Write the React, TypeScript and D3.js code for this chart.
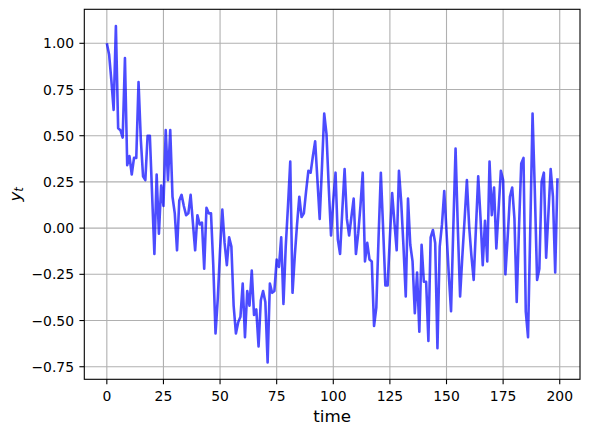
import React from "react";
import * as d3 from "d3";

// y_t series, t = 0 .. 199
const Y_VALUES: number[] = [
  1.0, 0.94, 0.8, 0.64, 1.093, 0.54, 0.53, 0.49, 0.92, 0.34,
  0.39, 0.29, 0.38, 0.38, 0.79, 0.48, 0.28, 0.26, 0.5, 0.5,
  0.18, -0.14, 0.29, -0.03, 0.23, 0.12, 0.53, 0.26, 0.53, 0.17,
  0.08, -0.12, 0.15, 0.18, 0.12, 0.07, 0.08, 0.18, 0.03, -0.12,
  0.07, 0.02, 0.03, -0.22, 0.11, 0.08, 0.08, -0.2, -0.57, -0.38,
  -0.12, 0.1, -0.08, -0.2, -0.05, -0.1, -0.42, -0.57, -0.51, -0.48,
  -0.3, -0.59, -0.34, -0.42, -0.23, -0.47, -0.44, -0.64, -0.39, -0.34,
  -0.4, -0.727, -0.3, -0.35, -0.34, -0.17, -0.21, -0.05, -0.41, -0.1,
  0.12, 0.36, -0.35, -0.15, 0.02, 0.17, 0.06, 0.08, 0.2, 0.31,
  0.3, 0.39, 0.47, 0.26, 0.05, 0.33, 0.62, 0.51, 0.22, -0.04,
  0.15, 0.3, -0.06, -0.14, 0.1, 0.32, 0.05, -0.04, 0.06, 0.16,
  -0.14, -0.03, 0.12, 0.3, -0.18, -0.08, -0.17, -0.18, -0.53, -0.43,
  -0.05, 0.3, 0.0, -0.31, -0.31, -0.05, 0.19, 0.03, -0.12, 0.31,
  0.14, -0.1, -0.37, 0.16, -0.09, -0.18, -0.46, -0.24, -0.56, -0.09,
  -0.29, -0.29, -0.61, -0.05, -0.01, -0.08, -0.65, -0.1, 0.02, 0.2,
  -0.02, -0.25, -0.45, 0.0, 0.43, 0.0, -0.37, -0.15, 0.05, 0.26,
  0.01, -0.15, -0.28, 0.0, 0.28, 0.06, -0.2, 0.04, -0.18, 0.36,
  0.07, 0.22, -0.11, 0.1, 0.31, 0.26, -0.25, -0.05, 0.17, 0.22,
  0.05, -0.4, 0.0, 0.35, 0.38, -0.45, -0.59, 0.0, 0.62, 0.2,
  -0.28, -0.22, 0.25, 0.3, -0.16, 0.08, 0.32, 0.17, -0.24, 0.27,
];

const X_TICKS: number[] = [0, 25, 50, 75, 100, 125, 150, 175, 200];
const Y_TICKS: number[] = [-0.75, -0.5, -0.25, 0.0, 0.25, 0.5, 0.75, 1.0];
const X_LABEL = "time";

const W = 589;
const H = 433;
const LEFT = 84.3;
const RIGHT = 580;
const TOP = 9.3;
const BOTTOM = 379.3;
const FONT = "'DejaVu Sans', sans-serif";
const GRID = "#b0b0b0";
const TICK_LEN = 4.9;

export default function App() {
  const n = Y_VALUES.length;
  const xPad = (n - 1) * 0.05;
  const x = d3.scaleLinear().domain([-xPad, n - 1 + xPad]).range([LEFT, RIGHT]);
  const [lo, hi] = d3.extent(Y_VALUES) as [number, number];
  const yPad = (hi - lo) * 0.05;
  const y = d3.scaleLinear().domain([lo - yPad, hi + yPad]).range([BOTTOM, TOP]);

  const line = d3
    .line<number>()
    .x((_, i) => x(i))
    .y((d) => y(d));

  const fmtY = d3.format(".2f");
  const fmtX = d3.format("d");

  return (
    <svg
      width={W}
      height={H}
      style={{ position: "fixed", left: 0, top: 0, background: "#fff" }}
      fontFamily={FONT}
    >
      <defs>
        <clipPath id="plot-clip">
          <rect x={LEFT} y={TOP} width={RIGHT - LEFT} height={BOTTOM - TOP} />
        </clipPath>
      </defs>
      <rect x={0} y={0} width={W} height={H} fill="#fff" />

      {/* grid */}
      {X_TICKS.map((t) => (
        <line
          key={"gx" + t}
          x1={x(t)}
          x2={x(t)}
          y1={TOP}
          y2={BOTTOM}
          stroke={GRID}
          strokeWidth={1.1}
        />
      ))}
      {Y_TICKS.map((t) => (
        <line
          key={"gy" + t}
          x1={LEFT}
          x2={RIGHT}
          y1={y(t)}
          y2={y(t)}
          stroke={GRID}
          strokeWidth={1.1}
        />
      ))}

      {/* data line */}
      <path
        d={line(Y_VALUES) || ""}
        fill="none"
        stroke="#0000ff"
        strokeOpacity={0.7}
        strokeWidth={2.6}
        strokeLinejoin="round"
        strokeLinecap="butt"
        clipPath="url(#plot-clip)"
      />

      {/* spines */}
      <rect
        x={LEFT}
        y={TOP}
        width={RIGHT - LEFT}
        height={BOTTOM - TOP}
        fill="none"
        stroke="#000"
        strokeWidth={1.1}
      />

      {/* x ticks */}
      {X_TICKS.map((t) => (
        <g key={"tx" + t}>
          <line x1={x(t)} x2={x(t)} y1={BOTTOM} y2={BOTTOM + TICK_LEN} stroke="#000" strokeWidth={1.1} />
          <text x={x(t)} y={400.5} textAnchor="middle" fontSize={13.9} fill="#000">
            {fmtX(t)}
          </text>
        </g>
      ))}

      {/* y ticks */}
      {Y_TICKS.map((t) => (
        <g key={"ty" + t}>
          <line x1={LEFT - TICK_LEN} x2={LEFT} y1={y(t)} y2={y(t)} stroke="#000" strokeWidth={1.1} />
          <text x={74} y={y(t) + 5} textAnchor="end" fontSize={13.9} fill="#000">
            {fmtY(t)}
          </text>
        </g>
      ))}

      {/* axis labels */}
      <text x={(LEFT + RIGHT) / 2} y={421.5} textAnchor="middle" fontSize={16.7} fill="#000">
        {X_LABEL}
      </text>
      <text
        transform={`translate(20.5, ${(TOP + BOTTOM) / 2}) rotate(-90)`}
        textAnchor="middle"
        fontSize={16.7}
        fill="#000"
      >
        <tspan fontStyle="italic">y</tspan>
        <tspan fontStyle="italic" fontSize={11.7} dy={2.5}>
          t
        </tspan>
      </text>
    </svg>
  );
}
